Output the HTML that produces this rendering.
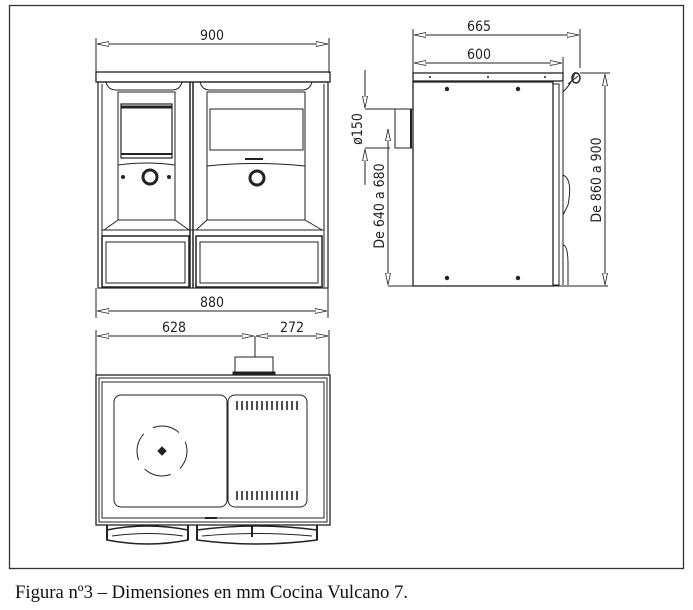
<!DOCTYPE html>
<html><head><meta charset="utf-8"><style>
html,body{margin:0;padding:0;background:#fff;width:693px;height:610px;overflow:hidden}
svg{position:absolute;left:0;top:0}
.cap{position:absolute;left:15px;top:582px;font-family:"Liberation Serif",serif;font-size:18.7px;color:#111;white-space:nowrap}
text{font-family:"DejaVu Sans Condensed","Liberation Sans Narrow","Liberation Sans",sans-serif;font-size:14px;fill:#222}
</style></head><body>
<svg width="693" height="610" viewBox="0 0 693 610">
<defs>
<marker id="a" viewBox="0 0 12 6" refX="12" refY="3" markerWidth="12" markerHeight="6" orient="auto-start-reverse" markerUnits="userSpaceOnUse"><path d="M0,0.5 L12,3 L0,5.5 Z" fill="#fff" stroke="#222" stroke-width="0.8"/></marker>
</defs>
<rect x="9.5" y="5.5" width="674" height="563" fill="none" stroke="#333" stroke-width="1.3"/>
<g stroke="#222" fill="none" stroke-width="1">
<line x1="96" y1="38" x2="96" y2="73"/><line x1="329" y1="38" x2="329" y2="73"/>
<line x1="97" y1="44" x2="328" y2="44" marker-start="url(#a)" marker-end="url(#a)"/>
<rect x="96" y="72" width="234" height="10" stroke-width="1.3"/>
<rect x="98" y="82" width="230" height="206" stroke-width="1.2"/>
<line x1="102" y1="84" x2="102" y2="287"/><line x1="324" y1="84" x2="324" y2="287"/>
<line x1="190" y1="82" x2="190" y2="288" stroke-width="1.5"/><line x1="193" y1="82" x2="193" y2="288" stroke-width="1.5"/>
<path d="M106,82 q2,8 10,8 h56 q8,0 10,-8"/><path d="M200,82 q2,8 10,8 h92 q8,0 10,-8"/>
<rect x="118" y="92" width="57" height="128"/>
<rect x="121" y="104" width="51" height="54" stroke-width="1.2"/>
<line x1="121" y1="107" x2="172" y2="107" stroke-width="3"/><line x1="121" y1="154" x2="172" y2="154" stroke-width="2"/>
<path d="M118,165 q28,-4 57,0"/>
<circle cx="150" cy="177" r="7" stroke-width="3"/><circle cx="123" cy="177" r="1.5" fill="#222"/><circle cx="169" cy="177" r="1.5" fill="#222"/>
<rect x="207" y="92" width="98" height="128"/>
<rect x="210" y="109" width="93" height="41"/>
<line x1="245" y1="159" x2="263" y2="159" stroke-width="2"/>
<path d="M207,166 q49,-5 98,0"/>
<circle cx="257" cy="178" r="7" stroke-width="3"/>
<path d="M104,230 l14,-10 M189,230 l-14,-10 M196,230 l11,-10 M322,230 l-17,-10"/>
<line x1="102" y1="230" x2="324" y2="230"/>
<rect x="102" y="236" width="87" height="51" stroke-width="1.5"/>
<rect x="106" y="242" width="79" height="41"/>
<rect x="196" y="236" width="126" height="51" stroke-width="1.5"/>
<rect x="200" y="242" width="118" height="41"/>
<line x1="96" y1="288" x2="96" y2="318"/><line x1="328" y1="288" x2="328" y2="318"/>
<line x1="97" y1="311" x2="327" y2="311" marker-start="url(#a)" marker-end="url(#a)"/>
<line x1="413" y1="29" x2="413" y2="73"/><line x1="580" y1="29" x2="580" y2="68"/><line x1="563" y1="57" x2="563" y2="73"/>
<line x1="414" y1="35" x2="579" y2="35" marker-start="url(#a)" marker-end="url(#a)"/>
<line x1="414" y1="63" x2="562" y2="63" marker-start="url(#a)" marker-end="url(#a)"/>
<rect x="413" y="73" width="150" height="8" stroke-width="1.3"/>
<rect x="413" y="82" width="140" height="204" stroke-width="1.3"/>
<rect x="553" y="84" width="6" height="201"/><line x1="563" y1="82" x2="563" y2="285"/>
<path d="M563,92 q10,-10 12,-20 M568,84 l10,-8"/><ellipse cx="576" cy="78" rx="4" ry="5" stroke-width="1.5"/>
<path d="M563,175 q10,4 5,30 l-5,10"/><path d="M563,245 q5,0 5,20 l0,20"/>
<rect x="395" y="109" width="18" height="39"/><line x1="411" y1="109" x2="411" y2="148" stroke-width="2"/>
<line x1="365" y1="109" x2="395" y2="109"/><line x1="365" y1="148" x2="390" y2="148"/>
<line x1="365" y1="70" x2="365" y2="108" marker-end="url(#a)"/>
<line x1="365" y1="185" x2="365" y2="149" marker-end="url(#a)"/>
<line x1="388" y1="129" x2="388" y2="285" marker-start="url(#a)" marker-end="url(#a)"/>
<line x1="388" y1="286" x2="608" y2="286"/>
<line x1="580" y1="73" x2="610" y2="73"/>
<line x1="605" y1="74" x2="605" y2="285" marker-start="url(#a)" marker-end="url(#a)"/>
<line x1="96" y1="330" x2="96" y2="375"/><line x1="329" y1="330" x2="329" y2="375"/>
<line x1="97" y1="336" x2="254" y2="336" marker-start="url(#a)" marker-end="url(#a)"/>
<line x1="256" y1="336" x2="328" y2="336" marker-start="url(#a)" marker-end="url(#a)"/>
<line x1="255" y1="336" x2="255" y2="357"/>
<rect x="235" y="357" width="38" height="16"/><rect x="233" y="372" width="42" height="3" fill="#222"/>
<rect x="96" y="375" width="234" height="150" stroke-width="1.3"/>
<rect x="99" y="378" width="228" height="144"/>
<rect x="102" y="382" width="222" height="136"/>
<rect x="114" y="395" width="113" height="112" rx="7"/>
<rect x="228" y="395" width="79" height="112" rx="7"/>
<circle cx="162" cy="451" r="25" stroke-dasharray="28 11" transform="rotate(-20 162 451)"/>
<path d="M162,447 l4,4 l-4,4 l-4,-4Z" fill="#222"/>
<line x1="205" y1="518" x2="217" y2="518" stroke-width="2"/>
<path d="M107,530 q40,-8 81,0 v10 q-40,8 -81,0Z M197,530 q60,-8 120,0 v10 q-60,8 -120,0Z" stroke-width="1.5"/>
<path d="M112,536 q36,-5 71,0 M202,536 q55,-5 110,0"/>
<path d="M107,525 v15 M188,525 v15 M197,525 v15 M317,525 v15 M252,525 v12" stroke-width="2"/>
</g>
<g stroke="#222" stroke-width="1.6">
<path d="M237,401v9M242,401v9M247,401v9M252,401v9M257,401v9M262,401v9M267,401v9M272,401v9M277,401v9M282,401v9M287,401v9M292,401v9M297,401v9"/>
<path d="M237,491v9M242,491v9M247,491v9M252,491v9M257,491v9M262,491v9M267,491v9M272,491v9M277,491v9M282,491v9M287,491v9M292,491v9M297,491v9"/>
</g>
<g fill="#222">
<circle cx="430" cy="77" r="1"/><circle cx="488" cy="77" r="1"/><circle cx="545" cy="77" r="1"/>
<circle cx="447" cy="89" r="2.2"/><circle cx="518" cy="89" r="2.2"/><circle cx="447" cy="278" r="2.2"/><circle cx="518" cy="278" r="2.2"/>
</g>
<text x="212" y="40" text-anchor="middle">900</text>
<text x="212" y="307" text-anchor="middle">880</text>
<text x="479" y="31" text-anchor="middle">665</text>
<text x="479" y="59" text-anchor="middle">600</text>
<text x="174" y="332" text-anchor="middle">628</text>
<text x="292" y="332" text-anchor="middle">272</text>
<text transform="translate(362,129) rotate(-90)" text-anchor="middle">ø150</text>
<text transform="translate(384,206) rotate(-90)" text-anchor="middle">De 640 a 680</text>
<text transform="translate(601,180) rotate(-90)" text-anchor="middle">De 860 a 900</text>
</svg>
<div class="cap">Figura nº3 – Dimensiones en mm Cocina Vulcano 7.</div>
</body></html>
